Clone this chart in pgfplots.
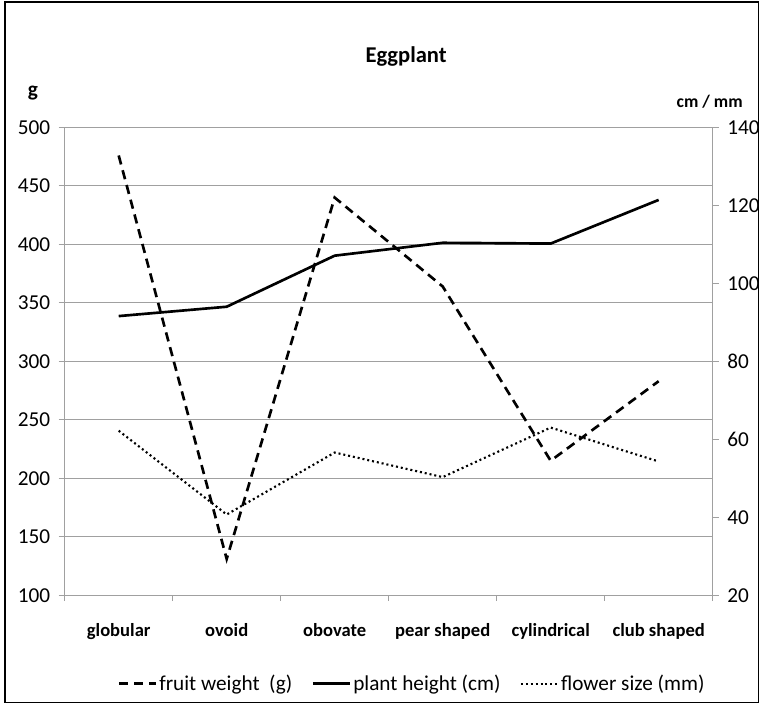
\documentclass[border=0pt]{standalone}
\usepackage{pgfplots}
\pgfplotsset{compat=1.18}
\usepackage{pgfplotstable}
\usepackage{fontspec}
\setmainfont{Carlito}

% Eggplant traits by fruit shape
\pgfplotstableread{
x fruit height flower
0 476 91.6 62.2
1 131 94.0 40.7
2 440 107.1 56.6
3 364 110.4 50.3
4 215 110.2 63.0
5 283 121.4 54.3
}\eggdata

\definecolor{gridgray}{RGB}{160,160,160}

\pgfplotsset{
  twin/.style={
    scale only axis,
    width=488.25pt, height=352.5pt,
    at={(48.75pt,82.5pt)}, anchor=south west,
    xmin=-0.5, xmax=5.5,
    /pgf/number format/assume math mode=true,
    tick align=outside,
    major tick length=4.5pt, minor tick length=4.5pt,
    tick style={draw=gridgray, line width=0.75pt},
    axis line style={draw=gridgray, line width=0.75pt, -},
    yticklabel style={font=\fontsize{16}{18}\selectfont},
  },
  fruitstyle/.style={black, line width=2pt, dash pattern=on 7pt off 4.5pt},
  heightstyle/.style={black, line width=2pt},
  flowerstyle/.style={black, line width=1.6pt, dash pattern=on 1.5pt off 2.2pt},
}

\begin{document}
\begin{tikzpicture}
\begin{scope}[x=0.75pt,y=0.75pt]
  \useasboundingbox (0,0) rectangle (764,708);
  \draw[line width=1pt] (5,2) rectangle (762,706);
\end{scope}

% left scale: fruit weight in g
\begin{axis}[
  twin,
  ymin=100, ymax=500,
  ytick={100,150,...,500},
  ymajorgrids,
  grid style={draw=gridgray, line width=0.75pt},
  axis x line*=bottom, axis y line*=left,
  xtick={-0.5,0.5,...,5.5},
  xticklabels={},
  extra x ticks={0,1,2,3,4,5},
  extra x tick labels={globular,ovoid,obovate,pear shaped,cylindrical,club shaped},
  extra x tick style={major tick length=0pt,
    xticklabel style={font=\fontsize{14}{16}\selectfont\bfseries, yshift=-18pt}},
  yticklabel style={xshift=-3pt},
]
\addplot[fruitstyle] table[x=x, y=fruit] {\eggdata};
\end{axis}

% right scale: plant height in cm and flower size in mm
\begin{axis}[
  twin,
  ymin=20, ymax=140,
  ytick={20,40,...,140},
  axis y line*=right, axis x line=none,
  yticklabel style={xshift=3pt},
  legend columns=3,
  legend style={draw=none, fill=none, at={(0.536,-0.189)}, anchor=center,
    font=\fontsize{16}{18}\selectfont,
    nodes={inner xsep=1.5pt},
    /tikz/every even column/.append style={column sep=13pt}},
  legend image code/.code={\draw[#1] (0pt,0pt) -- (28pt,0pt);},
]
\addlegendimage{fruitstyle}
\addplot[heightstyle] table[x=x, y=height] {\eggdata};
\addplot[flowerstyle] table[x=x, y=flower] {\eggdata};
\legend{fruit weight\ \ (g), plant height (cm), flower size (mm)}
\end{axis}

\begin{scope}[x=0.75pt,y=0.75pt]
  \node[font=\fontsize{17}{19}\selectfont\bfseries] at (408,651) {Eggplant};
  \node[font=\fontsize{16}{18}\selectfont\bfseries] at (33,614) {g};
  \node[font=\fontsize{13.3}{15}\selectfont\bfseries] at (713,606) {cm / mm};
\end{scope}
\end{tikzpicture}
\end{document}
